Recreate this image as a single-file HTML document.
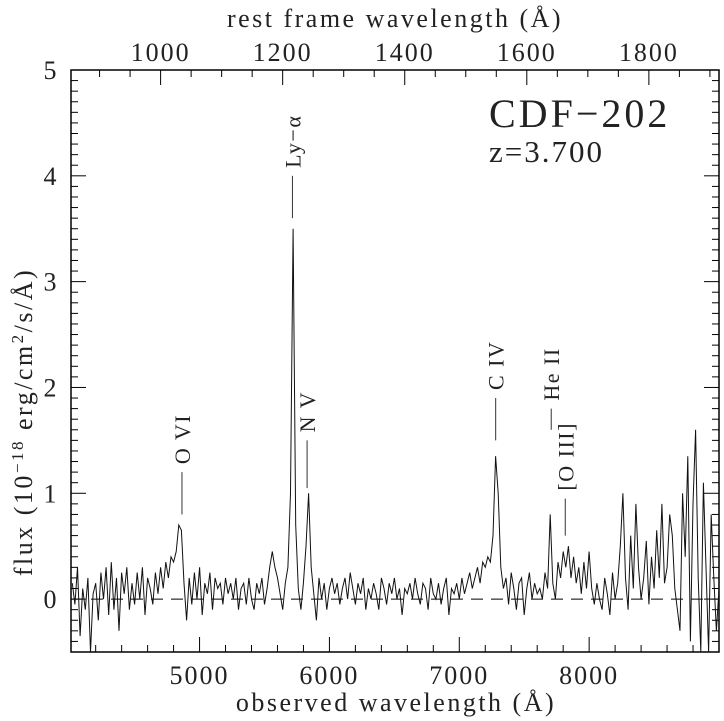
<!DOCTYPE html>
<html><head><meta charset="utf-8"><style>
html,body{margin:0;padding:0;background:#fff}
svg{display:block}
text{font-family:"Liberation Serif",serif;fill:#222}
</style></head><body>
<svg id="chart" width="724" height="721" viewBox="0 0 724 721" xmlns="http://www.w3.org/2000/svg">
<g id="axes"></g>
<g id="marks"></g>
</svg>
<script>
const startWave = 4020;
const stepWave = 20;
const flux = [
0.15,-0.05,0.3,-0.35,0.1,-0.1,0.2,-0.55,0.05,0.15,
-0.2,0.25,0.0,0.3,-0.15,0.35,-0.1,0.2,-0.3,0.25,
0.05,0.3,-0.1,0.15,-0.05,0.25,0.0,0.3,-0.15,0.2,
0.1,-0.05,0.25,0.05,0.3,0.1,0.35,0.2,0.4,0.35,
0.45,0.7,0.65,0.15,-0.2,0.2,-0.05,0.25,0.0,0.3,
-0.15,0.15,0.05,0.25,-0.1,0.2,0.1,0.15,-0.05,0.2,
0.05,0.15,0.0,0.2,-0.1,0.1,0.15,-0.05,0.2,0.0,
-0.1,0.15,0.05,0.2,-0.05,0.1,0.3,0.45,0.3,0.2,
0.05,-0.1,0.15,0.3,1.0,3.5,0.7,0.1,-0.1,0.15,
0.5,1.0,0.3,0.05,-0.2,0.2,0.0,0.15,-0.1,0.1,
0.2,0.05,0.15,-0.05,0.1,0.2,0.0,0.25,0.1,-0.05,
0.15,0.05,0.2,-0.1,0.1,0.0,0.15,0.05,-0.1,0.2,
0.1,-0.05,0.15,0.05,0.2,0.0,0.1,-0.15,0.1,0.05,
0.15,0.0,0.2,0.05,-0.05,0.15,0.1,-0.1,0.2,0.05,
0.0,0.15,-0.05,0.1,0.2,-0.15,0.1,0.05,0.15,0.0,
0.2,0.05,0.15,0.25,0.1,0.2,0.3,0.15,0.35,0.3,
0.4,0.35,0.6,1.35,1.0,0.3,0.1,0.2,-0.05,0.25,
0.1,-0.1,0.15,0.2,-0.15,0.1,0.25,0.0,0.15,0.05,
0.1,0.0,0.25,0.1,0.8,0.15,0.0,0.35,0.2,0.45,
0.3,0.5,0.2,0.4,0.15,0.3,0.05,0.35,0.1,0.45,
0.1,-0.05,0.15,0.0,-0.1,0.2,0.05,-0.15,0.25,0.0,
0.15,0.5,1.0,0.2,-0.1,0.6,0.1,0.9,0.3,0.0,
0.2,0.55,-0.05,0.4,0.1,0.65,0.2,0.9,0.15,0.3,
0.8,0.6,0.1,-0.1,-0.3,1.0,0.4,1.35,-0.4,0.9,
1.6,0.2,-0.6,1.1,0.3,-0.5,0.8,0.2,-0.3,0.1
];
const bottomTicks = [5000,6000,7000,8000];
const topTicks = [1000,1200,1400,1600,1800];
const yTicks = [0,1,2,3,4,5];
const redshift = 3.7;
const lineNames = ["O VI","Ly\u2212\u03b1","N V","C IV","He II","[O III]"];
const lineRest = [1035,1216,1240,1549,1640,1663];
const lineTop = [1.2,4.0,1.5,1.9,1.8,0.95];
const lineBot = [0.8,3.6,1.05,1.5,1.6,0.6];

const L=71,R=719,T=70,B=652, X0=4010,X1=9000, Y0=-0.5,Y1=5;
const sx=v=>L+(v-X0)/(X1-X0)*(R-L);
const sy=v=>B-(v-Y0)/(Y1-Y0)*(B-T);
const NS="http://www.w3.org/2000/svg";
const axes=document.getElementById('axes'), marks=document.getElementById('marks');
function mk(tag,attrs,parent,txt){const e=document.createElementNS(NS,tag);for(const k in attrs)e.setAttribute(k,attrs[k]);if(txt!==undefined)e.textContent=txt;parent.appendChild(e);return e;}

let fr=mk('rect',{x:L,y:T,width:R-L,height:B-T,fill:'none',stroke:'#000','stroke-width':1.5},axes);


let z=mk('line',{x1:L,x2:R,y1:sy(0),y2:sy(0),stroke:'#000','stroke-width':1,'stroke-dasharray':'12,8'},axes);


for(let k=-5;k<=50;k++){const v=k/10;const y=sy(v);const len=(k%10===0)?15:7;
 mk('line',{x1:L,x2:L+len,y1:y,y2:y,stroke:'#000','stroke-width':1},axes);
 mk('line',{x1:R,x2:R-len,y1:y,y2:y,stroke:'#000','stroke-width':1},axes);}
yTicks.forEach(v=>{const t=mk('text',{x:50,y:sy(v)+9,'font-size':26,'text-anchor':'middle'},axes,String(v));
 
 });
for(let w=4200;w<=9000;w+=200){const x=sx(w);const len=(w%1000===0)?15:7;
 mk('line',{x1:x,x2:x,y1:B,y2:B-len,stroke:'#000','stroke-width':1},axes);}
bottomTicks.forEach(v=>{const t=mk('text',{x:sx(v),y:684,'font-size':26,'letter-spacing':2,'text-anchor':'middle'},axes,String(v));
 
 });
for(let r=900;r<=1900;r+=50){const x=sx(r*(1+redshift));if(x<L||x>R)continue;const len=(r%200===0)?15:7;
 mk('line',{x1:x,x2:x,y1:T,y2:T+len,stroke:'#000','stroke-width':1},axes);}
topTicks.forEach(v=>{const t=mk('text',{x:sx(v*(1+redshift)),y:61,'font-size':26,'letter-spacing':2,'text-anchor':'middle'},axes,String(v));
 
 });
let t1=mk('text',{x:395,y:27,'font-size':26,'letter-spacing':2.5,'text-anchor':'middle'},axes,'rest frame wavelength (Å)');

let t2=mk('text',{x:396,y:711,'font-size':26,'letter-spacing':2.5,'text-anchor':'middle'},axes,'observed wavelength (Å)');

let t3=mk('text',{x:0,y:0,'font-size':26,'letter-spacing':2.5,'text-anchor':'middle',transform:'translate(32,422) rotate(-90)'},axes);

t3.innerHTML='flux (10<tspan font-size="17" dy="-9">−18</tspan><tspan dy="9"> erg/cm</tspan><tspan font-size="17" dy="-9">2</tspan><tspan dy="9">/s/Å)</tspan>';
let t4=mk('text',{x:489,y:127,'font-size':40,'letter-spacing':3,fill:'#666'},axes,'CDF−202');

let t5=mk('text',{x:489,y:162,'font-size':31,'letter-spacing':2,fill:'#555'},axes,'z=3.700');


let d='';
flux.forEach((f,i)=>{const x=sx(startWave+i*stepWave);const y=Math.max(T,Math.min(B,sy(f)));d+=(i?'L':'M')+x.toFixed(1)+','+y.toFixed(1);});
let cp=mk('clipPath',{id:'clip'},marks);mk('rect',{x:L,y:T,width:R-L,height:B-T},cp);
let sp=mk('path',{d:d,fill:'none',stroke:'#111','stroke-width':1,'clip-path':'url(#clip)'},marks);



lineNames.forEach((n,i)=>{const x=sx(lineRest[i]*(1+redshift));
 const m=mk('line',{x1:x,x2:x,y1:sy(lineTop[i]),y2:sy(lineBot[i]),stroke:'#333','stroke-width':1},marks);
 
 
 const lx=x+8, ly=sy(lineTop[i])-8;
 const t=mk('text',{x:0,y:0,'font-size':22,'letter-spacing':1.5,'text-anchor':'start',transform:`translate(${lx},${ly}) rotate(-90)`},marks,n);
 
 });
</script>
</body></html>
